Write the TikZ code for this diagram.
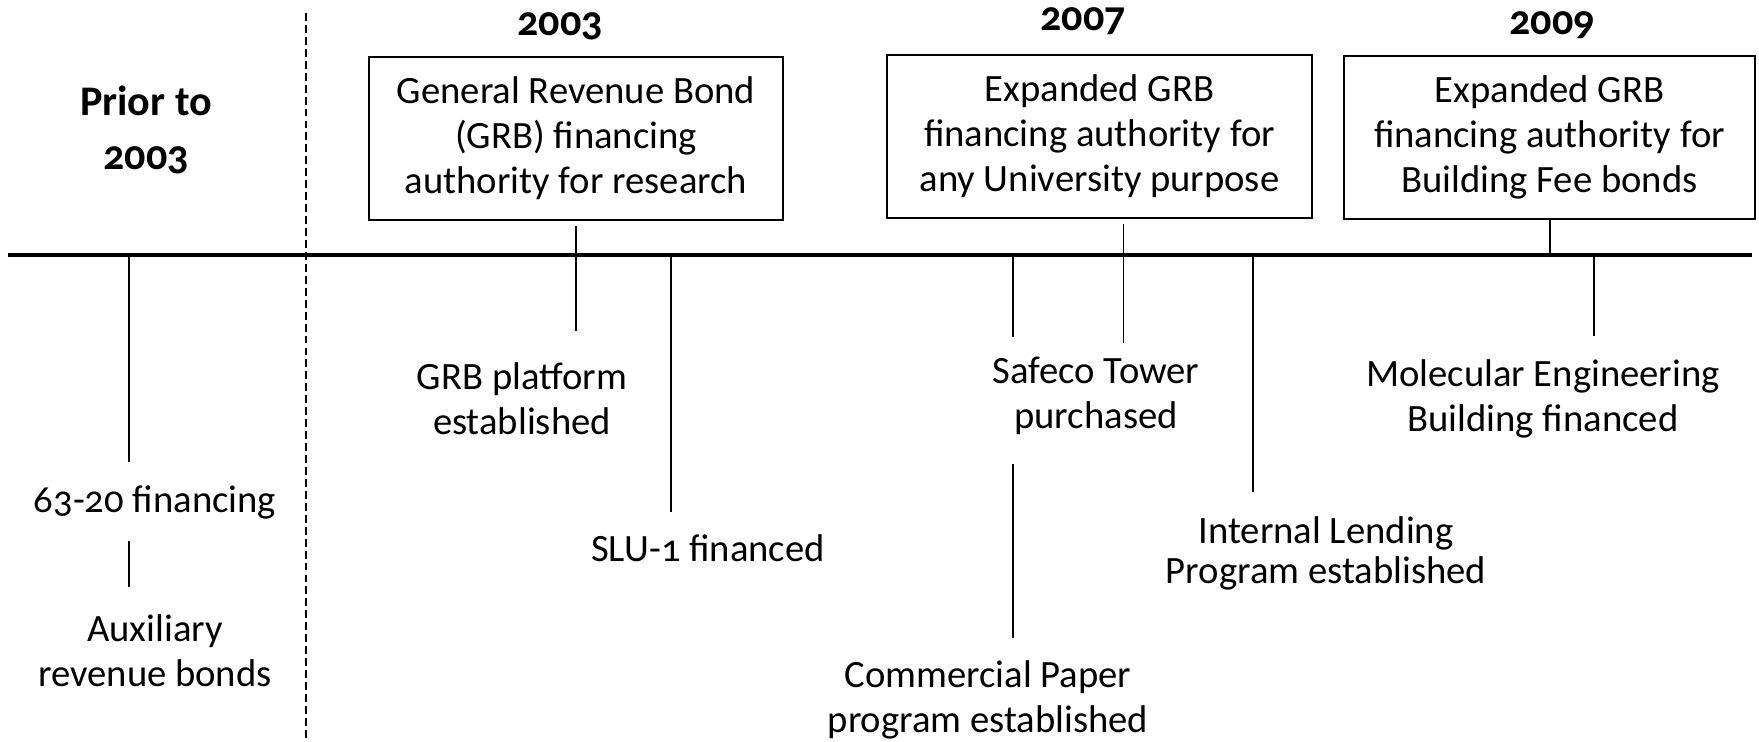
\documentclass[tikz,border=0pt]{standalone}
\usepackage{fontspec}
\setmainfont{Carlito}[Numbers=OldStyle]
\usepackage{tikz}
\newcommand{\txtsize}{\fontsize{22}{25.6}\selectfont}
\newcommand{\yrsize}{\fontsize{24}{31}\selectfont}
\tikzstyle{axis} = [line width=1.9pt]
\tikzstyle{tick} = [line width=0.9pt]
\tikzstyle{divider} = [line width=0.85pt, dash pattern=on 4.5pt off 2.3pt]
\tikzstyle{event} = [draw, line width=1.1pt, align=center, inner sep=0pt, minimum height=3.26cm, font=\txtsize]
\tikzstyle{note} = [align=center, inner sep=0pt, font=\txtsize]
\tikzstyle{year} = [align=center, inner sep=0pt, font=\yrsize\bfseries]

\begin{document}
\begin{tikzpicture}[x=0.02cm, y=-0.02cm]
        \useasboundingbox (0,0) rectangle (1759,741);

        % timeline and divider
        \coordinate (ax_left) at (8,255);
        \coordinate (ax_right) at (1752,255);
        \coordinate (div_top) at (306,13);
        \coordinate (div_bot) at (306,741);
        \draw [divider] (div_top) -- (div_bot);
        \draw [axis] (ax_left) -- (ax_right);

        % years
        \node (prior) [year] at (146,130) {Prior to\\2003};
        \node (y2003) [year] at (560,26) {2003};
        \node (y2007) [year] at (1083,21) {2007};
        \node (y2009) [year] at (1552,25) {2009};

        % boxes above the line
        \node (grb) [event, minimum width=8.28cm] at (576,138.5) {General Revenue Bond\\(GRB) financing\\authority for research};
        \node (any) [event, minimum width=8.5cm] at (1099.5,136.5) {Expanded GRB\\financing authority for\\any University purpose};
        \node (fee) [event, minimum width=8.22cm] at (1549.5,137.5) {Expanded GRB\\financing authority for\\Building Fee bonds};

        % notes below the line
        \node (fin6320) [note] at (155,502) {63-20 financing};
        \node (aux) [note] at (155,651) {Auxiliary\\revenue bonds};
        \node (platform) [note] at (522,399) {GRB platform\\established};
        \node (slu) [note] at (708,548) {SLU-1 financed};
        \node (safeco) [note] at (1096,396) {Safeco Tower\\purchased};
        \node (paper) [note] at (988,700) {Commercial Paper\\program established};
        \node (lending) [note, font=\fontsize{22}{22.8}\selectfont] at (1326,553) {Internal Lending\\Program established};
        \node (moleng) [note] at (1543,399) {Molecular Engineering\\Building financed};

        % ticks
        \coordinate (fin6320_a) at (129,255);
        \coordinate (fin6320_b) at (129,462);
        \coordinate (aux_a) at (129,541);
        \coordinate (aux_b) at (129,587);
        \coordinate (grb_b) at (576,331);
        \coordinate (slu_a) at (671,255);
        \coordinate (slu_b) at (671,512);
        \coordinate (safeco_a) at (1013,255);
        \coordinate (safeco_b) at (1013,337);
        \coordinate (paper_a) at (1013,464);
        \coordinate (paper_b) at (1013,638);
        \coordinate (any_b) at (1123.5,343);
        \coordinate (lending_a) at (1253,255);
        \coordinate (lending_b) at (1253,492);
        \coordinate (fee_b) at (1550,255);
        \coordinate (moleng_a) at (1594,255);
        \coordinate (moleng_b) at (1594,336);

        \draw [tick] (fin6320_a) -- (fin6320_b);
        \draw [tick] (aux_a) -- (aux_b);
        \draw [tick] ([yshift=-3]grb.south) -- (grb_b);
        \draw [tick] (slu_a) -- (slu_b);
        \draw [tick] (safeco_a) -- (safeco_b);
        \draw [tick] (paper_a) -- (paper_b);
        \draw [tick] ([yshift=-3]any.south -| any_b) -- (any_b);
        \draw [tick] (lending_a) -- (lending_b);
        \draw [tick] (fee.south -| fee_b) -- (fee_b);
        \draw [tick] (moleng_a) -- (moleng_b);

    \end{tikzpicture}
\end{document}
